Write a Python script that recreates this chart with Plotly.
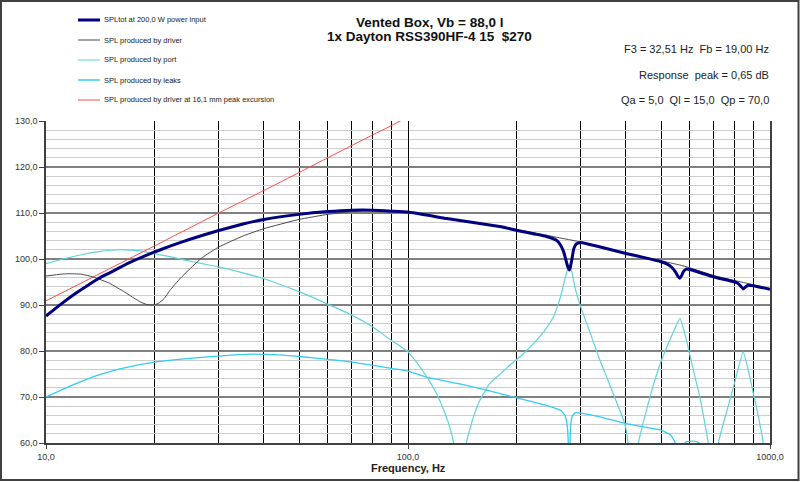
import plotly.graph_objects as go

# ---------------- data ----------------
freq_total = [10, 11, 12, 13, 14, 15, 17, 19.5, 22, 25, 30, 35, 40, 50, 60, 70, 80, 90, 100,
              128, 158, 181, 200, 225, 241, 252, 258, 264, 269, 273, 276, 279, 281, 284, 287,
              291, 300, 340, 400, 450, 500, 520, 535, 548, 557, 563, 569, 577, 587, 600,
              700, 800, 815, 830, 843, 855, 870, 900, 1000]
spl_total = [87.6, 90.2, 92.4, 94.2, 95.8, 97.0, 99.2, 101.2, 102.8, 104.3, 106.2, 107.6, 108.6,
             109.7, 110.3, 110.6, 110.6, 110.4, 110.2,
             108.8, 107.7, 107.0, 106.2, 105.4, 104.9, 104.4, 104.0, 103.0, 101.6, 99.8, 98.4,
             97.6, 98.3, 100.2, 102.2, 103.2, 103.6, 102.6, 101.2, 100.3, 99.4, 98.9, 98.2,
             97.2, 96.2, 95.8, 96.3, 97.3, 97.8, 97.7,
             96.1, 95.0, 94.7, 94.1, 93.5, 93.9, 94.3, 94.2, 93.4]

freq_driver = [10, 11, 11.5, 12.5, 13.5, 15, 16.5, 17.5, 18.3, 19.0, 19.7, 20.4, 21.2, 22, 23.5,
               25, 27, 30, 35, 40, 50, 60, 70, 80, 90, 100, 128, 158, 200, 241, 258, 279, 300,
               400, 500, 563, 600, 700, 800, 843, 900, 1000]
spl_driver = [96.3, 96.7, 96.8, 96.7, 96.1, 94.7, 92.8, 91.5, 90.6, 90.1, 90.0, 90.3, 91.4, 93.2,
              95.8, 97.9, 100.3, 102.6, 105.0, 106.6, 108.6, 109.7, 110.3, 110.5, 110.4, 110.2,
              108.8, 107.8, 106.4, 105.2, 104.7, 104.2, 103.7, 101.3, 99.6, 98.7, 98.1, 96.4,
              95.3, 94.9, 94.4, 93.5]

freq_port = [10, 11, 12, 13, 14, 15, 16.5, 18, 19.5, 22, 24, 27, 30, 35, 40, 50, 60, 70, 80, 90,
             95, 100, 105, 110, 115, 120, 125, 130, 133.6, 138.5, 145, 150, 153, 158, 168, 181,
             191, 205, 222, 238, 252, 262, 268, 274, 279, 284, 289, 300, 320, 339, 369, 397,
             405, 418, 433, 470, 500, 540, 564, 585, 601, 620, 640, 675, 697, 720, 760, 793,
             843, 870, 900, 930, 958, 990]
spl_port = [99.0, 99.9, 100.6, 101.2, 101.6, 101.9, 102.0, 101.8, 101.3, 100.5, 99.8, 99.0, 98.3,
            97.0, 95.7, 92.9, 90.2, 87.8, 85.2, 82.3, 81.1, 79.8, 77.8, 75.6, 73.3, 70.7, 67.5,
            63.8, 60.0, 45.0, 60.0, 64.5, 66.6, 69.3, 72.9, 75.2, 76.9, 78.9, 81.6, 84.3, 87.4,
            91.0, 93.9, 97.0, 98.8, 97.0, 93.9, 89.6, 83.5, 78.0, 70.7, 64.2, 60.2, 45.0, 60.0,
            71.0, 77.7, 84.0, 87.1, 83.0, 79.0, 74.5, 70.0, 60.0, 45.0, 60.0, 67.0, 72.2, 79.8,
            76.0, 70.7, 65.5, 60.0, 45.0]

freq_leaks = [10, 11, 12, 13, 14, 16, 18, 20, 25, 30, 37, 45, 50, 60, 70, 90, 100, 112.6, 140,
              165, 191, 220, 250, 265, 272, 276, 279, 281, 284, 290, 300, 339, 400, 500, 530,
              543, 553, 563, 573, 585, 610, 635, 660, 700, 800, 1000]
spl_leaks = [70.0, 71.5, 72.8, 73.9, 74.8, 76.1, 77.0, 77.6, 78.4, 78.9, 79.3, 79.1, 78.8, 78.2,
             77.6, 76.2, 75.6, 74.3, 72.8, 71.5, 70.2, 69.0, 67.8, 67.0, 65.8, 63.0, 55.0, 63.0,
             65.8, 66.6, 66.5, 65.7, 64.2, 62.8, 61.8, 60.6, 59.0, 57.0, 59.0, 60.2, 60.4, 60.1,
             58.5, 56.0, 52.0, 48.0]

freq_excursion = [10, 20, 30, 40, 50, 60, 70, 80, 90, 100]
spl_excursion = [90.9, 102.9, 110.0, 114.9, 118.8, 122.0, 124.7, 127.0, 129.0, 130.9]

x_tickvals = [10, 100, 1000]
x_ticktext = ["10,0", "100,0", "1000,0"]
x_minor = [20, 30, 40, 50, 60, 70, 80, 90, 200, 300, 400, 500, 600, 700, 800, 900]
y_tickvals = [60, 70, 80, 90, 100, 110, 120, 130]
y_ticktext = ["60,0", "70,0", "80,0", "90,0", "100,0", "110,0", "120,0", "130,0"]

legend_labels = ["SPLtot at 200,0 W power input", "SPL produced by driver",
                 "SPL produced by port", "SPL produced by leaks",
                 "SPL produced by driver at 16,1 mm peak excursion"]

# ---------------- figure ----------------
FONT = "Liberation Sans, Arial, sans-serif"
C_TOTAL = "#000080"
C_DRIVER = "#4a4a4a"
C_PORT = "#5fd3dc"
C_LEAKS = "#33ccf5"
C_RED = "#ff4a4a"

W, H = 800, 482
ML, MR, MT, MB = 46, 30, 121, 39
PW = W - ML - MR
PH = H - MT - MB


def px(xp):
    return (xp - ML) / PW


def py(yp):
    return (H - MB - yp) / PH


fig = go.Figure()


def add(x, y, color, width):
    fig.add_trace(go.Scatter(x=x, y=y, mode="lines",
                             line=dict(color=color, width=width, shape="spline", smoothing=0.4),
                             showlegend=False, hoverinfo="skip"))


add(freq_port, spl_port, C_PORT, 1.2)
add(freq_leaks, spl_leaks, C_LEAKS, 1.3)
add(freq_excursion, spl_excursion, C_RED, 1)
add(freq_driver, spl_driver, C_DRIVER, 1)
add(freq_total, spl_total, C_TOTAL, 3)

fig.update_layout(
    width=W, height=H, autosize=False,
    margin=dict(l=ML, r=MR, t=MT, b=MB, pad=0),
    paper_bgcolor="white", plot_bgcolor="white",
    font=dict(family=FONT, color="#333333"),
    xaxis=dict(type="log", range=[1, 3], tickmode="array", tickvals=x_tickvals,
               ticktext=x_ticktext, showgrid=True, gridcolor="#000000", gridwidth=1,
               minor=dict(tickmode="array", tickvals=x_minor, showgrid=True,
                          gridcolor="#000000", gridwidth=1),
               ticks="outside", ticklen=4, tickcolor="#404040",
               showline=True, linecolor="#404040", linewidth=1.5, zeroline=False,
               tickfont=dict(size=9, color="#333333", family=FONT)),
    yaxis=dict(range=[60, 130], tickmode="array", tickvals=y_tickvals, ticktext=y_ticktext,
               showgrid=True, gridcolor="#808080", gridwidth=2,
               minor=dict(dtick=2, tick0=60, showgrid=True, gridcolor="#cccccc", gridwidth=1),
               ticks="outside", ticklen=5, tickcolor="#404040",
               showline=True, mirror=True, linecolor="#404040", linewidth=1.5, zeroline=False,
               tickfont=dict(size=9, color="#333333", family=FONT)),
)

annotations = []
shapes = []

# titles
annotations.append(dict(text="<b>Vented Box, Vb = 88,0 l</b>", x=px(429), y=py(22.5),
                        xref="paper", yref="paper", xanchor="center", yanchor="middle",
                        showarrow=False, font=dict(size=13.5, color="#111111", family=FONT)))
annotations.append(dict(text="<b>1x Dayton RSS390HF-4 15\u00a0\u00a0$270</b>", x=px(429), y=py(36.5),
                        xref="paper", yref="paper", xanchor="center", yanchor="middle",
                        showarrow=False, font=dict(size=13.5, color="#111111", family=FONT)))

# right info text
info = ["F3 = 32,51 Hz\u00a0\u00a0Fb = 19,00 Hz", "Response\u00a0\u00a0peak = 0,65 dB",
        "Qa = 5,0\u00a0\u00a0Ql = 15,0\u00a0\u00a0Qp = 70,0"]
for txt, yy in zip(info, [48.5, 75, 100]):
    annotations.append(dict(text=txt, x=px(771), y=py(yy), xref="paper", yref="paper",
                            xanchor="right", yanchor="middle", showarrow=False,
                            font=dict(size=11, color="#222222", family=FONT)))

# x axis title
annotations.append(dict(text="<b>Frequency, Hz</b>", x=px(408), y=py(468), xref="paper",
                        yref="paper", xanchor="center", yanchor="middle", showarrow=False,
                        font=dict(size=11, color="#222222", family=FONT)))

# custom legend
leg_colors = [C_TOTAL, C_DRIVER, C_PORT, C_LEAKS, C_RED]
leg_widths = [3, 1, 1, 1.5, 1]
for i, (lab, col, wd) in enumerate(zip(legend_labels, leg_colors, leg_widths)):
    yy = 20 + 20 * i
    shapes.append(dict(type="line", xref="paper", yref="paper", x0=px(78), x1=px(100),
                       y0=py(yy), y1=py(yy), line=dict(color=col, width=wd)))
    annotations.append(dict(text=lab, x=px(102), y=py(yy), xref="paper", yref="paper",
                            xanchor="left", yanchor="middle", showarrow=False,
                            font=dict(size=7.5, color="#222222", family=FONT)))

# outer frame
shapes.append(dict(type="rect", xref="paper", yref="paper", x0=px(1), x1=px(798.5),
                   y0=py(480), y1=py(1), line=dict(color="#404040", width=2)))

fig.update_layout(annotations=annotations, shapes=shapes)

fig.write_html("out.html")
